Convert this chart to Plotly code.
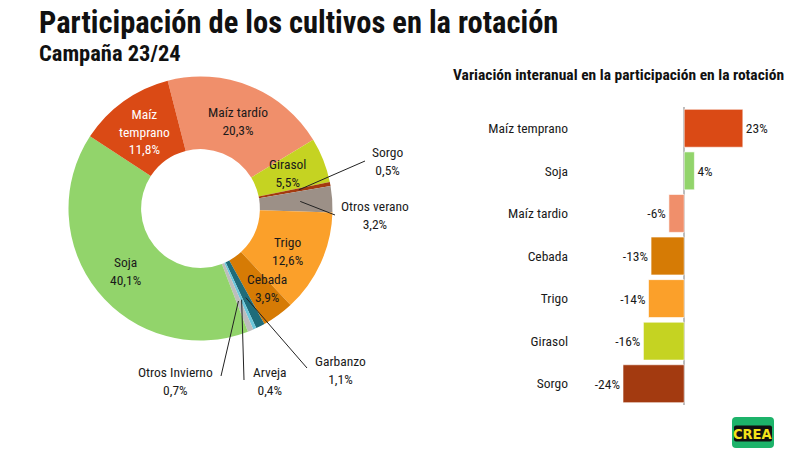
import math
import plotly.graph_objects as go

W, H = 790, 453

# ---------------- data ----------------
pie_labels = ["Maíz tardío", "Girasol", "Sorgo", "Otros verano", "Trigo", "Cebada",
              "Garbanzo", "Arveja", "Otros Invierno", "Soja", "Maíz temprano"]
pie_values = [20.3, 5.5, 0.5, 3.2, 12.6, 3.9, 1.1, 0.4, 0.7, 40.1, 11.8]
pie_colors = ["#F08F6B", "#C5D322", "#A33A10", "#9C9087", "#FBA02A", "#D67B05",
              "#1E6C7A", "#6CC7DB", "#BDBDBD", "#92D46B", "#DA4A15"]

bar_cats = ["Maíz temprano", "Soja", "Maíz tardio", "Cebada", "Trigo", "Girasol", "Sorgo"]
bar_values = [23, 4, -6, -13, -14, -16, -24]
bar_colors = ["#DA4A15", "#92D46B", "#F08F6B", "#D67B05", "#FBA02A", "#C5D322", "#A33A10"]

FONT = "Roboto Condensed, Liberation Sans Narrow, DejaVu Sans Condensed, Roboto, sans-serif"
TXT = "#1a1a1a"

def px(x):
    return x / W

def py(y):
    return 1 - y / H

def pct(v):
    return f"{v:.1f}".replace(".", ",") + "%"

# ---------------- pie geometry (layout) ----------------
cx, cy, R = 200.5, 208.5, 132.0
hole = 0.45
rotation = -14.4
pie_dom_x = [px(cx - R), px(cx + R)]
pie_dom_y = [py(cy + R), py(cy - R)]

fig = go.Figure()
fig.add_trace(go.Pie(
    labels=pie_labels, values=pie_values, sort=False, direction="clockwise",
    rotation=rotation, hole=hole, textinfo="none", hoverinfo="label+percent",
    marker=dict(colors=pie_colors, line=dict(width=0)),
    domain=dict(x=pie_dom_x, y=pie_dom_y), showlegend=False, automargin=False,
))

total = sum(pie_values)
mid_angle = {}
cum = 0.0
for lab, v in zip(pie_labels, pie_values):
    mid_angle[lab] = (cum + v / 2) / total * 360 + rotation
    cum += v

def polar(lab, r):
    a = math.radians(mid_angle[lab])
    return cx + r * math.sin(a), cy - r * math.cos(a)

annotations = []
shapes = []

inside = {
    "Maíz temprano": ("Maíz<br>temprano", "white", 0, 1),
    "Maíz tardío": ("Maíz tardío", TXT, 1, 1),
    "Girasol": ("Girasol", TXT, -2, 0),
    "Trigo": ("Trigo", TXT, 0, 3),
    "Cebada": ("Cebada", TXT, 10, 2),
    "Soja": ("Soja", TXT, 0, 2),
}
for lab, v in zip(pie_labels, pie_values):
    if lab in inside:
        name, col, dx, dy = inside[lab]
        x, y = polar(lab, 96)
        annotations.append(dict(
            x=px(x + dx), y=py(y + dy), xref="paper", yref="paper",
            xanchor="center", yanchor="middle",
            text=f"{name}<br>{pct(v)}", showarrow=False,
            font=dict(family=FONT, size=13.5, color=col), align="center",
        ))

outside = {
    "Sorgo": ((387, 161), (365, 161)),
    "Otros verano": ((375, 215), (335, 215)),
    "Garbanzo": ((340, 370), (307, 368)),
    "Arveja": ((270, 381), (244, 380)),
    "Otros Invierno": ((175, 381), (221, 376)),
}
for lab, v in zip(pie_labels, pie_values):
    if lab in outside:
        (tx, ty), (ex, ey) = outside[lab]
        sx, sy = polar(lab, 100)
        shapes.append(dict(type="line", xref="paper", yref="paper",
                           x0=px(sx), y0=py(sy), x1=px(ex), y1=py(ey),
                           line=dict(color="#222222", width=1)))
        annotations.append(dict(
            x=px(tx), y=py(ty), xref="paper", yref="paper",
            xanchor="center", yanchor="middle",
            text=f"{lab}<br>{pct(v)}", showarrow=False,
            font=dict(family=FONT, size=13.5, color=TXT), align="center",
        ))

# ---------------- bars ----------------
fig.add_trace(go.Bar(
    x=bar_values, y=bar_cats, orientation="h",
    marker=dict(color=bar_colors, line=dict(color="rgba(255,255,255,0.6)", width=1)),
    text=[f"{v}%" for v in bar_values], textposition="outside", cliponaxis=False,
    textfont=dict(family=FONT, size=13.5, color=TXT), showlegend=False,
    xaxis="x", yaxis="y",
))

fig.update_layout(
    width=W, height=H,
    margin=dict(l=0, r=0, t=0, b=0, pad=0, autoexpand=False),
    paper_bgcolor="white", plot_bgcolor="white",
    bargap=0.11,
    xaxis=dict(domain=[px(572), px(776)], range=[-44, 36], showgrid=False,
               showticklabels=False, zeroline=True, zerolinecolor="#BDBDBD",
               zerolinewidth=2, showline=False, fixedrange=True, automargin=False),
    yaxis=dict(domain=[py(405), py(107)], autorange="reversed", showgrid=False,
               ticks="", showline=False, zeroline=False, automargin=False,
               ticklabelstandoff=3,
               tickfont=dict(family=FONT, size=13.5, color=TXT),
               categoryorder="array", categoryarray=bar_cats, fixedrange=True),
    font=dict(family=FONT),
)

# titles
annotations.append(dict(
    x=px(37), y=py(3), xref="paper", yref="paper", xanchor="left", yanchor="top",
    text="<b>Participación de los cultivos en la rotación</b>", showarrow=False,
    font=dict(family=FONT, size=30.5, color="#111111"),
))
annotations.append(dict(
    x=px(37), y=py(38), xref="paper", yref="paper", xanchor="left", yanchor="top",
    text="<b>Campaña 23/24</b>", showarrow=False,
    font=dict(family=FONT, size=22.5, color="#111111"),
))
annotations.append(dict(
    x=px(618.5), y=py(75), xref="paper", yref="paper", xanchor="center", yanchor="middle",
    text="<b>Variación interanual en la participación en la rotación</b>", showarrow=False,
    font=dict(family=FONT, size=15.5, color="#111111"),
))

# CREA logo (rounded green badge with black band)
def rounded_rect(x0, y0, x1, y1, r):
    X = lambda v: f"{px(v):.5f}"
    Y = lambda v: f"{py(v):.5f}"
    return (f"M {X(x0 + r)},{Y(y0)} L {X(x1 - r)},{Y(y0)} Q {X(x1)},{Y(y0)} {X(x1)},{Y(y0 + r)} "
            f"L {X(x1)},{Y(y1 - r)} Q {X(x1)},{Y(y1)} {X(x1 - r)},{Y(y1)} "
            f"L {X(x0 + r)},{Y(y1)} Q {X(x0)},{Y(y1)} {X(x0)},{Y(y1 - r)} "
            f"L {X(x0)},{Y(y0 + r)} Q {X(x0)},{Y(y0)} {X(x0 + r)},{Y(y0)} Z")

shapes.append(dict(type="path", xref="paper", yref="paper",
                   path=rounded_rect(732, 417, 774, 448, 4),
                   fillcolor="#1DB36A", line=dict(width=0), layer="above"))
shapes.append(dict(type="path", xref="paper", yref="paper",
                   path=rounded_rect(734, 425.5, 772, 441.5, 2),
                   fillcolor="#111111", line=dict(width=0), layer="above"))
annotations.append(dict(
    x=px(753), y=py(433.5), xref="paper", yref="paper", xanchor="center", yanchor="middle",
    text="<b>CREA</b>", showarrow=False,
    font=dict(family="DejaVu Sans Condensed, Liberation Sans Narrow, sans-serif", size=14.5, color="#F5E31A"),
))

fig.update_layout(annotations=annotations, shapes=shapes)
fig.write_html(
    "out.html",
    config={"displayModeBar": False},
    post_script="document.body.style.margin='0';document.body.style.padding='0';document.body.style.overflow='hidden';",
)
